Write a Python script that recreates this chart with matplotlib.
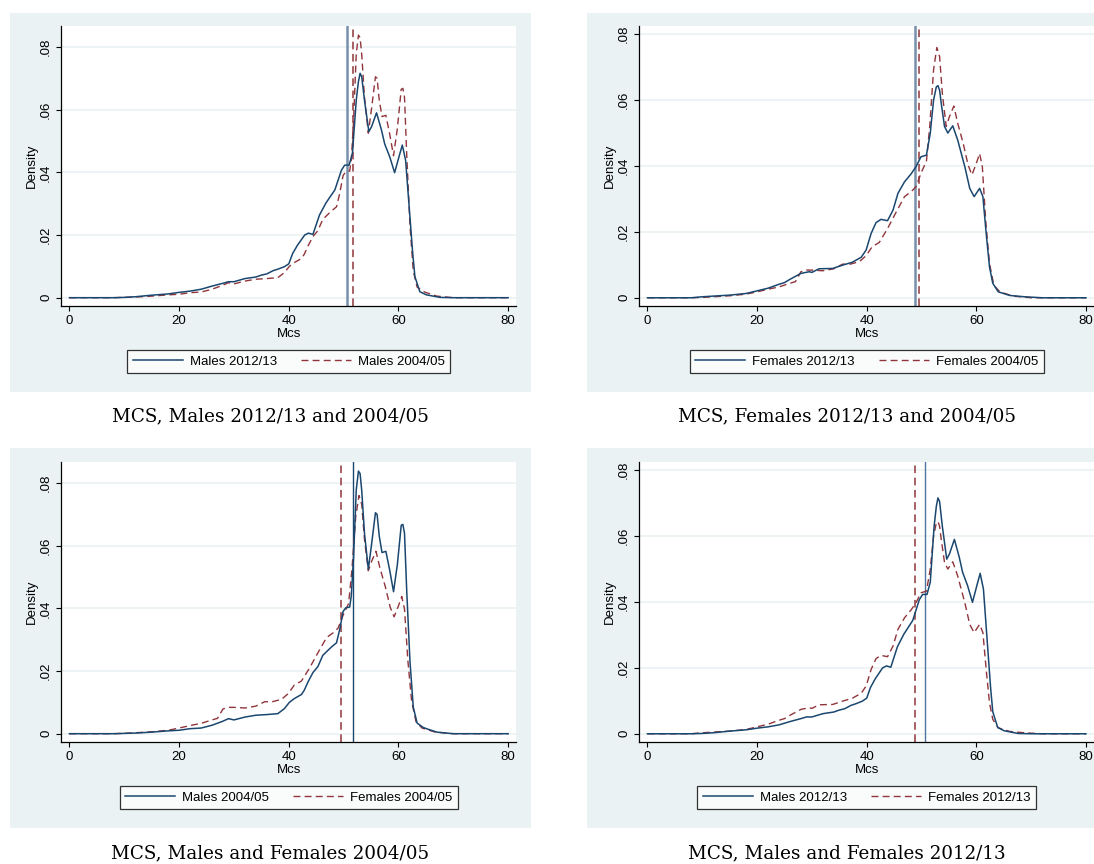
import numpy as np
import matplotlib
matplotlib.use("Agg")
import matplotlib.pyplot as plt
from matplotlib.patches import Rectangle

# ---- data (Mcs score vs density) ----
m12_x = [0, 8, 10, 12, 15, 18, 20, 22, 24, 26, 28, 29, 30, 32, 34, 35, 36, 37.1, 38, 39.2,
         40, 40.7, 41.6, 42.9, 43.6, 44.4, 45.6, 46.8, 48.4, 49.6, 50.2, 51.0, 51.6, 52.3,
         52.7, 53.0, 53.3, 53.8, 54.6, 55.1, 56.0, 56.9, 57.5, 58.4, 59.3, 60.1, 60.7, 61.3,
         61.95, 62.6, 63.0, 63.9, 65.1, 67.6, 70, 80]
m12_y = [0, 0, 0.0001, 0.0003, 0.0008, 0.0012, 0.0017, 0.0021, 0.0027, 0.0037, 0.0046, 0.0051,
         0.0051, 0.0061, 0.0066, 0.0072, 0.0076, 0.0086, 0.0091, 0.0099, 0.0108, 0.0141, 0.0168,
         0.0200, 0.0206, 0.0202, 0.0264, 0.0303, 0.0344, 0.0407, 0.0423, 0.0423, 0.0460, 0.0630,
         0.0690, 0.0716, 0.0705, 0.0630, 0.0530, 0.0546, 0.0590, 0.0535, 0.0490, 0.0450, 0.0399,
         0.0450, 0.0487, 0.0439, 0.0290, 0.0141, 0.0067, 0.0019, 0.0009, 0.0001, 0, 0]

m04_x = [0, 8, 10, 12, 15, 18, 20, 22, 24, 26, 28, 29, 30, 32, 34, 36, 38, 39.2, 40.1, 41.0,
         42.3, 42.8, 43.5, 44.4, 45.3, 46.2, 46.9, 47.8, 48.7, 49.3, 49.9, 50.4, 51.1, 51.4,
         51.8, 52.3, 52.7, 53.0, 53.3, 53.8, 54.5, 55.1, 55.8, 56.1, 56.5, 57.0, 57.7, 58.4,
         59.1, 59.8, 60.5, 60.8, 61.1, 61.5, 62.1, 62.7, 63.4, 64.5, 65.1, 67.0, 70, 80]
m04_y = [0, 0, 0.0001, 0.0002, 0.0005, 0.0009, 0.0011, 0.0016, 0.0018, 0.0027, 0.0040, 0.0048,
         0.0044, 0.0053, 0.0059, 0.0061, 0.0064, 0.0080, 0.0100, 0.0112, 0.0125, 0.0138, 0.0165,
         0.0195, 0.0214, 0.0250, 0.0262, 0.0277, 0.0290, 0.0334, 0.0390, 0.0402, 0.0404, 0.0440,
         0.0560, 0.0778, 0.0838, 0.0830, 0.0776, 0.0640, 0.0525, 0.0605, 0.0705, 0.0700, 0.0630,
         0.0578, 0.0582, 0.0522, 0.0453, 0.0540, 0.0665, 0.0668, 0.0640, 0.0458, 0.0230, 0.0085,
         0.0034, 0.0020, 0.0016, 0.0005, 0, 0]

f12_x = [0, 8, 10, 15, 18, 20, 22, 24, 25, 26, 28, 29.5, 30, 31.3, 33.8, 35.6, 37.4, 39.0, 39.9,
         40.8, 41.7, 42.6, 43.8, 44.8, 45.7, 46.9, 48.1, 49.0, 49.9, 50.9, 51.6, 52.2, 52.7,
         53.0, 53.3, 53.6, 54.2, 54.8, 55.7, 56.6, 57.9, 58.8, 59.6, 60.6, 61.2, 61.8, 62.4,
         63.0, 64.0, 66.1, 68.8, 72, 80]
f12_y = [0, 0, 0.0003, 0.0008, 0.0013, 0.0021, 0.0029, 0.0041, 0.0046, 0.0056, 0.0074, 0.0079,
         0.0077, 0.0088, 0.0089, 0.0099, 0.0108, 0.0123, 0.0145, 0.0195, 0.0228, 0.0238, 0.0234,
         0.0266, 0.0317, 0.0352, 0.0376, 0.0398, 0.0428, 0.0433, 0.0500, 0.0600, 0.0640, 0.0644,
         0.0630, 0.0590, 0.0520, 0.0500, 0.0522, 0.0479, 0.0398, 0.0332, 0.0307, 0.0332, 0.0307,
         0.0195, 0.0094, 0.0044, 0.0018, 0.0007, 0.0003, 0, 0]

f04_x = [0, 8, 10, 15, 18, 20, 22, 24, 26, 27, 28, 29, 30, 32, 34, 35.6, 37, 38.7, 39.9, 41.0,
         42.3, 43.8, 45.4, 46.9, 48.1, 49.0, 49.9, 50.9, 51.5, 52.2, 52.8, 53.3, 53.8, 54.5,
         55.1, 55.9, 56.6, 57.6, 58.5, 59.2, 60.0, 60.6, 61.1, 61.7, 62.4, 63.2, 64.3, 66.7,
         70, 80]
f04_y = [0, 0, 0.0001, 0.0006, 0.0011, 0.0018, 0.0026, 0.0033, 0.0044, 0.0049, 0.0079, 0.0084,
         0.0084, 0.0082, 0.0088, 0.0102, 0.0102, 0.0110, 0.0128, 0.0155, 0.0168, 0.0210, 0.0261,
         0.0307, 0.0322, 0.0337, 0.0378, 0.0415, 0.0520, 0.0692, 0.0760, 0.0732, 0.0620, 0.0520,
         0.0550, 0.0582, 0.0530, 0.0469, 0.0403, 0.0373, 0.0408, 0.0438, 0.0398, 0.0236, 0.0104,
         0.0038, 0.0018, 0.0005, 0, 0]

# group means (vertical reference lines)
mean_m12 = 50.6
mean_m04 = 51.75
mean_f12 = 48.8
mean_f04 = 49.5

lab_m12 = "Males 2012/13"
lab_m04 = "Males 2004/05"
lab_f12 = "Females 2012/13"
lab_f04 = "Females 2004/05"

captions = ["MCS, Males 2012/13 and 2004/05", "MCS, Females 2012/13 and 2004/05",
            "MCS, Males and Females 2004/05", "MCS, Males and Females 2012/13"]

yticks = [0, 0.02, 0.04, 0.06, 0.08]
yticklabels = ["0", ".02", ".04", ".06", ".08"]
xticks = [0, 20, 40, 60, 80]

NAVY = "#1A476F"
MAROON = "#90353B"
BG = "#EAF2F3"
GRID = "#EDF3F5"
FS = 9.5

W, H = 1094, 864
plt.rcParams["font.family"] = ["Liberation Sans", "DejaVu Sans"]
fig = plt.figure(figsize=(W / 100, H / 100), dpi=100)


def px_rect(x0, y0, x1, y1):
    return [x0 / W, 1 - y1 / H, (x1 - x0) / W, (y1 - y0) / H]


def panel(bg, box, ylim, solid, dashed, vsolid, vdash, vs_color, vs_lw, caption, cap_y):
    bx0, by0, bx1, by1 = bg
    fig.patches.append(Rectangle((bx0 / W, 1 - by1 / H), (bx1 - bx0) / W, (by1 - by0) / H,
                                 transform=fig.transFigure, facecolor=BG, edgecolor="none",
                                 zorder=-5))
    ax = fig.add_axes(px_rect(*box))
    ax.set_zorder(2)
    ax.set_facecolor("white")
    ax.set_xlim(-1.47, 81.47)
    ax.set_ylim(*ylim)
    for y in yticks:
        ax.axhline(y, color=GRID, lw=1.3, zorder=0)
    ax.axvline(vsolid, color=vs_color, lw=vs_lw, zorder=1)
    ax.axvline(vdash, color=MAROON, lw=1.1, ls=(0, (5, 3)), zorder=1)
    sx, sy, sl = solid
    dx, dy, dl = dashed
    ax.plot(sx, sy, color=NAVY, lw=1.1, label=sl, zorder=3)
    ax.plot(dx, dy, color=MAROON, lw=1.0, ls=(0, (5, 3)), label=dl, zorder=2)
    ax.set_xticks(xticks)
    ax.set_yticks(yticks)
    ax.set_yticklabels(yticklabels, rotation=90, va="center")
    ax.tick_params(direction="out", length=3.6, width=0.8, labelsize=FS, pad=3, colors="black")
    for s in ("top", "right"):
        ax.spines[s].set_visible(False)
    for s in ("left", "bottom"):
        ax.spines[s].set_linewidth(0.9)
    ax.set_xlabel("Mcs", fontsize=FS, labelpad=0.5)
    ax.set_ylabel("Density", fontsize=FS, labelpad=2)
    cx = (box[0] + box[2]) / 2
    leg = ax.legend(loc="center", bbox_to_anchor=(cx / W, 1 - (box[3] + 55.5) / H),
                    bbox_transform=fig.transFigure, ncol=2, fontsize=FS, frameon=True,
                    fancybox=False, edgecolor="black", handlelength=3.8, handletextpad=0.55,
                    columnspacing=1.8, borderpad=0.4, borderaxespad=0)
    leg.get_frame().set_linewidth(0.9)
    fig.text(((bx0 + bx1) / 2) / W, 1 - cap_y / H, caption, ha="center", va="center",
             fontsize=13.2, family="DejaVu Serif")
    return ax


yl_m = (-0.00265, 0.0867)
yl_f = (-0.0025, 0.0825)

panel((9.5, 13.3, 531, 391.7), (61.4, 26, 516.2, 306), yl_m,
      (m12_x, m12_y, lab_m12), (m04_x, m04_y, lab_m04),
      mean_m12, mean_m04, "#7890AC", 1.8, captions[0], 416.7)
panel((587, 13.3, 1107, 391.7), (639.4, 26, 1094, 306), yl_f,
      (f12_x, f12_y, lab_f12), (f04_x, f04_y, lab_f04),
      mean_f12, mean_f04, "#7890AC", 1.8, captions[1], 416.7)
panel((9.5, 448, 531, 827.7), (61.4, 462, 516.2, 742), yl_m,
      (m04_x, m04_y, lab_m04), (f04_x, f04_y, lab_f04),
      mean_m04, mean_f04, NAVY, 1.0, captions[2], 853.7)
panel((587, 448, 1107, 827.7), (639.4, 462, 1094, 742), yl_f,
      (m12_x, m12_y, lab_m12), (f12_x, f12_y, lab_f12),
      mean_m12, mean_f12, "#4F74A0", 1.0, captions[3], 853.7)

fig.savefig("out.png", dpi=100, facecolor="white")
